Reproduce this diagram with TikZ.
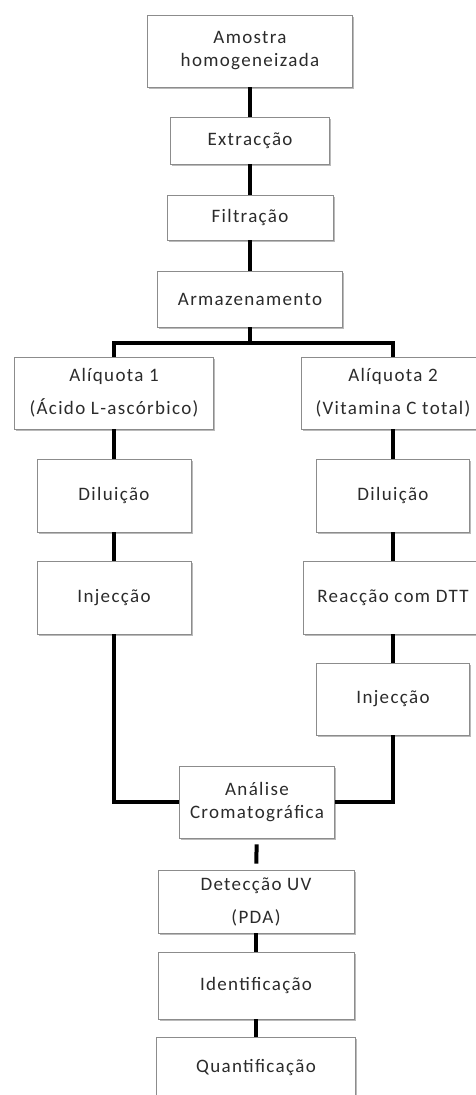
\documentclass[tikz,border=0pt]{standalone}
\usepackage{fontspec}
\setmainfont{Carlito}[LetterSpace=7]
\usetikzlibrary{shadows}
\definecolor{texto}{HTML}{2B2B2B}
\definecolor{borda}{HTML}{8C8C8C}
\tikzset{
    %Define style for boxes
    caixa/.style={
           rectangle,
           draw=borda, line width=0.9pt,
           fill=white,
           text=texto,
           align=center,
           font=\fontsize{19}{23}\selectfont,
           inner sep=2pt,
           drop shadow={shadow xshift=1.6pt, shadow yshift=-1.6pt, fill=black!45, opacity=.6}},
    % Define connector style
    liga/.style={
           line width=4pt,
           black}
}
\newcommand*{\bloco}[5]{\node[caixa, minimum width=#3pt, minimum height=#4pt] (#1) at #2 {#5};}

\begin{document}
\begin{tikzpicture}[x=1pt,y=-1pt]
\useasboundingbox (0,0) rectangle (475,1095);

% Main trunk
\bloco{amostra}{(250,51)}{205}{72}{Amostra\\homogeneizada}
\bloco{extraccao}{(250,140.5)}{159}{47}{Extracção}
\bloco{filtracao}{(250,217.5)}{166}{45}{Filtração}
\bloco{armazena}{(250,299)}{185}{56}{Armazenamento}

% Left branch
\bloco{aliqA}{(114,393)}{199}{72}{Alíquota 1\\[10pt](Ácido L-ascórbico)}
\bloco{diluiA}{(114,495.5)}{154}{73}{Diluição}
\bloco{injecA}{(114,597.5)}{154}{73}{Injecção}

% Right branch
\bloco{aliqB}{(393,393)}{184}{72}{Alíquota 2\\[10pt](Vitamina C total)}
\bloco{diluiB}{(393,495.5)}{153}{73}{Diluição}
\bloco{reacB}{(393,597.5)}{180}{73}{Reacção com DTT}
\bloco{injecB}{(393,699)}{153}{72}{Injecção}

% Joined again
\bloco{analise}{(257,802)}{155}{72}{Análise\\Cromatográfica}
\bloco{deteccao}{(256,901.5)}{196}{63}{Detecção UV\\[10pt](PDA)}
\bloco{identif}{(256,985.5)}{196}{67}{Identificação}
\bloco{quantif}{(256,1068)}{199}{62}{Quantificação}

% Now connect the nodes
\coordinate (ramo) at (250,343);
\draw[liga] (amostra) -- (extraccao);
\draw[liga] (extraccao) -- (filtracao);
\draw[liga] (filtracao) -- (armazena);
\draw[liga] (armazena.south) -- (ramo);
\draw[liga] (aliqA.north) |- (ramo) -| (aliqB.north);
\draw[liga] (aliqA) -- (diluiA);
\draw[liga] (diluiA) -- (injecA);
\draw[liga] (aliqB) -- (diluiB);
\draw[liga] (diluiB) -- (reacB);
\draw[liga] (reacB) -- (injecB);
\draw[liga] (injecA.south) |- (analise.west);
\draw[liga] (injecB.south) |- (analise.east);
\draw[liga, shorten <=6pt, shorten >=6pt] (analise) -- (deteccao);
\draw[liga] (deteccao) -- (identif);
\draw[liga] (identif) -- (quantif);
\end{tikzpicture}
\end{document}
